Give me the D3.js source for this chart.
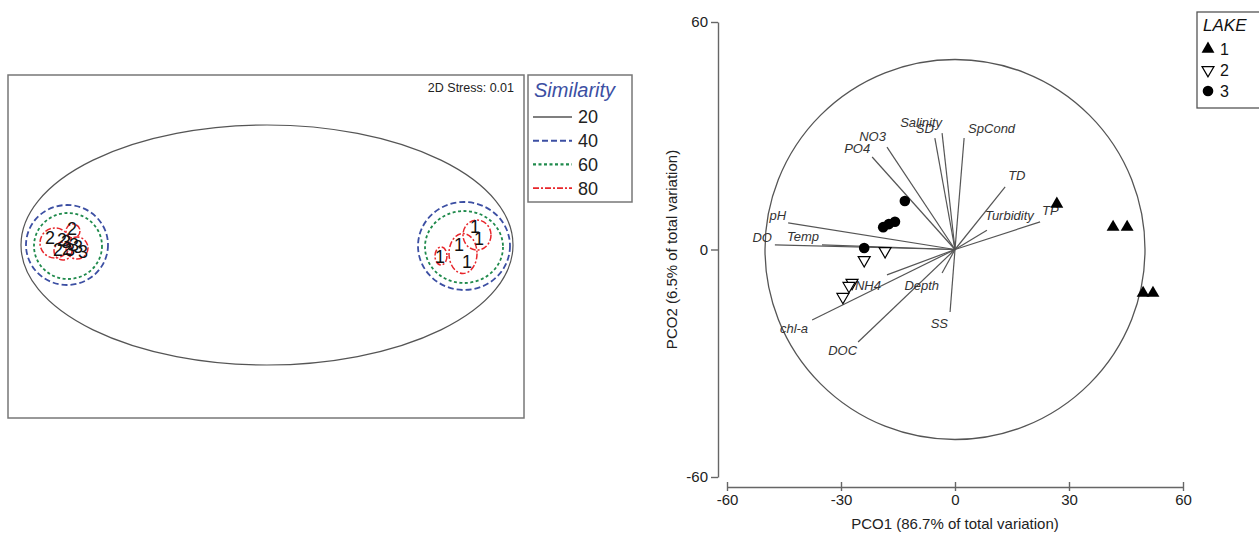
<!DOCTYPE html>
<html>
<head>
<meta charset="utf-8">
<script src="https://cdn.jsdelivr.net/npm/d3@7"></script>
<style>
  body { margin: 0; background: #fff; }
  svg { font-family: "Liberation Sans", Arial, sans-serif; }
</style>
</head>
<body>
<div id="chart"></div>
<script>
// ---- left panel: nMDS sample labels ----
var mdsLabel = ["2","2","2","2","2","3","3","3","3","3","1","1","1","1","1"];
var mdsX = [-2.16,-2.08,-1.99,-1.94,-2.04,-2.00,-1.92,-1.88,-1.83,-1.96, 1.74,1.93,2.01,2.09,2.13];
var mdsY = [0.085,-0.035,-0.025,0.175,0.065,0.045,0.015,-0.005,-0.055,-0.035, -0.105,0.015,-0.155,0.195,0.075];

// similarity contours (level, centre, radii)
var simLevel = [20, 40, 60, 80, 80, 80, 80, 40, 60, 80, 80, 80];
var simCx = [0.01, -1.99, -1.98, -2.11, -1.89, -1.93, -2.03, 1.98, 1.98, 1.75, 1.97, 2.11];
var simCy = [0.015, 0.015, 0.005, 0.035, -0.015, 0.155, -0.045, 0.005, -0.005, -0.095, -0.07, 0.115];
var simRx = [2.46, 0.41, 0.34, 0.15, 0.11, 0.07, 0.09, 0.46, 0.39, 0.06, 0.14, 0.14];
var simRy = [1.20, 0.40, 0.33, 0.15, 0.11, 0.07, 0.09, 0.44, 0.36, 0.09, 0.20, 0.15];
var legendLevels = [20, 40, 60, 80];

// ---- right panel: PCO ----
var lake = [1,1,1,1,1, 2,2,2,2,2, 3,3,3,3,3];
var pco1 = [26.8, 41.6, 45.3, 49.5, 52.1, -18.4, -23.9, -27.1, -27.9, -29.5, -13.2, -18.9, -17.4, -15.8, -23.9];
var pco2 = [12.0, 5.9, 5.9, -11.5, -11.5, -0.4, -2.8, -8.8, -9.6, -12.5, 12.8, 5.9, 6.7, 7.3, 0.4];

var varName = ["pH","DO","Temp","NO3","PO4","Salinity","SD","SpCond","TD","Turbidity","TP","NH4","Depth","SS","chl-a","DOC"];
var varX = [-43.9, -47.4, -35.0, -17.9, -21.8, -3.4, -5.3, 2.4, 13.2, 8.4, 22.4, -17.9, -3.4, -1.3, -37.6, -25.5];
var varY = [7.0, 1.2, 1.2, 27.0, 24.4, 30.7, 29.4, 29.4, 16.5, 5.1, 7.3, -6.7, -6.2, -16.5, -18.6, -24.4];
var axisTicks = [-60, 0, 60];
var xTicks = [-60, -30, 0, 30, 60];

// label placement relative to vector tip
var labelPos = {
  "pH": [-2, -3, "end"], "DO": [-3, -3, "end"], "Temp": [-3, -4, "end"],
  "NO3": [-1, -6, "end"], "PO4": [-2, -4, "end"], "Salinity": [0, -6, "end"],
  "SD": [-1, -5, "end"], "SpCond": [4, -5, "start"], "TD": [3, -7, "start"],
  "Turbidity": [-2, -10, "start"], "TP": [2, -7, "start"], "NH4": [-6, 15, "end"],
  "Depth": [-3, 17, "end"], "SS": [-2, 16, "end"], "chl-a": [-4, 13, "end"], "DOC": [-1, 13, "end"]
};

var simStyle = {
  20: { color: "#555", dash: null, width: 1.2 },
  40: { color: "#3c4fa3", dash: "6,3", width: 1.8 },
  60: { color: "#1f8a4c", dash: "3,2.5", width: 1.8 },
  80: { color: "#e8262b", dash: "6,2,2,2", width: 1.5 }
};

var svg = d3.select("#chart").append("svg")
  .attr("width", 1259).attr("height", 533);

// ================= left panel =================
var mx = d3.scaleLinear().domain([-2.58, 2.58]).range([8, 524]);
var my = d3.scaleLinear().domain([-1.715, 1.715]).range([418, 75]);

var left = svg.append("g");
left.append("rect")
  .attr("x", mx(-2.58)).attr("y", my(1.715))
  .attr("width", mx(2.58) - mx(-2.58)).attr("height", my(-1.715) - my(1.715))
  .attr("fill", "none").attr("stroke", "#777").attr("stroke-width", 1.5);

left.append("text")
  .attr("x", 514).attr("y", 92)
  .attr("text-anchor", "end")
  .style("font-size", "12.5px").style("fill", "#222")
  .text("2D Stress: 0.01");

left.selectAll("ellipse.sim")
  .data(simLevel.map(function(d, i) { return { lev: d, cx: simCx[i], cy: simCy[i], rx: simRx[i], ry: simRy[i] }; }))
  .enter().append("ellipse")
  .attr("class", "sim")
  .attr("cx", function(d) { return mx(d.cx); })
  .attr("cy", function(d) { return my(d.cy); })
  .attr("rx", function(d) { return mx(d.cx + d.rx) - mx(d.cx); })
  .attr("ry", function(d) { return my(d.cy - d.ry) - my(d.cy); })
  .attr("fill", "none")
  .attr("stroke", function(d) { return simStyle[d.lev].color; })
  .attr("stroke-width", function(d) { return simStyle[d.lev].width; })
  .attr("stroke-dasharray", function(d) { return simStyle[d.lev].dash; });

left.selectAll("text.lab")
  .data(mdsLabel.map(function(d, i) { return { t: d, x: mdsX[i], y: mdsY[i] }; }))
  .enter().append("text")
  .attr("class", "lab")
  .attr("x", function(d) { return mx(d.x); })
  .attr("y", function(d) { return my(d.y); })
  .attr("dy", "0.36em")
  .attr("text-anchor", "middle")
  .style("font-size", "18px").style("fill", "#111")
  .text(function(d) { return d.t; });

// similarity legend
var sl = svg.append("g").attr("transform", "translate(528,75)");
sl.append("rect").attr("width", 104).attr("height", 127)
  .attr("fill", "#fff").attr("stroke", "#777").attr("stroke-width", 1.5);
sl.append("text").attr("x", 6).attr("y", 22)
  .style("font-size", "20px").style("font-style", "italic").style("fill", "#3c4fa3")
  .text("Similarity");
var li = sl.selectAll("g.item").data(legendLevels).enter().append("g")
  .attr("class", "item")
  .attr("transform", function(d, i) { return "translate(0," + (42 + i * 23.7) + ")"; });
li.append("line").attr("x1", 5).attr("x2", 44)
  .attr("stroke", function(d) { return simStyle[d].color; })
  .attr("stroke-width", function(d) { return simStyle[d].width + 0.3; })
  .attr("stroke-dasharray", function(d) { return simStyle[d].dash; });
li.append("text").attr("x", 50).attr("dy", "0.36em")
  .style("font-size", "18px").style("fill", "#222")
  .text(function(d) { return d; });

// ================= right panel =================
var x = d3.scaleLinear().domain([-60, 60]).range([727, 1183]);
var y = d3.scaleLinear().domain([-60, 60]).range([477, 22]);

var right = svg.append("g");

// correlation circle
right.append("circle")
  .attr("cx", x(0)).attr("cy", y(0))
  .attr("r", x(50) - x(0))
  .attr("fill", "none").attr("stroke", "#555").attr("stroke-width", 1.3);

var vecs = varName.map(function(d, i) { return { name: d, x: varX[i], y: varY[i] }; });
right.selectAll("line.vec").data(vecs).enter().append("line")
  .attr("class", "vec")
  .attr("x1", x(0)).attr("y1", y(0))
  .attr("x2", function(d) { return x(d.x); })
  .attr("y2", function(d) { return y(d.y); })
  .attr("stroke", "#555").attr("stroke-width", 1.2);

right.selectAll("text.vlab").data(vecs).enter().append("text")
  .attr("class", "vlab")
  .attr("x", function(d) { return x(d.x) + labelPos[d.name][0]; })
  .attr("y", function(d) { return y(d.y) + labelPos[d.name][1]; })
  .attr("text-anchor", function(d) { return labelPos[d.name][2]; })
  .style("font-size", "13px").style("font-style", "italic").style("fill", "#333")
  .text(function(d) { return d.name; });

// sample points
var pts = lake.map(function(d, i) { return { lake: d, x: pco1[i], y: pco2[i] }; });
function drawMarker(sel) {
  sel.each(function(d) {
    var g = d3.select(this);
    if (d.lake == 1) {
      g.append("path").attr("d", d3.symbol(d3.symbolTriangle, 72)())
        .attr("fill", "#000");
    } else if (d.lake == 2) {
      g.append("path").attr("d", d3.symbol(d3.symbolTriangle, 62)())
        .attr("transform", "rotate(180)")
        .attr("fill", "#fff").attr("stroke", "#000").attr("stroke-width", 1.2);
    } else {
      g.append("circle").attr("r", 5.3).attr("fill", "#000");
    }
  });
}
right.selectAll("g.pt").data(pts).enter().append("g")
  .attr("class", "pt")
  .attr("transform", function(d) { return "translate(" + x(d.x) + "," + y(d.y) + ")"; })
  .call(drawMarker);

// axes
var yAxis = right.append("g").attr("transform", "translate(718,0)")
  .call(d3.axisLeft(y).tickValues(axisTicks).tickFormat(String).tickSizeInner(7).tickSizeOuter(0).tickPadding(3));
var xAxis = right.append("g").attr("transform", "translate(0,487)")
  .call(d3.axisBottom(x).tickValues(xTicks).tickFormat(String).tickSizeInner(5).tickSizeOuter(0).tickPadding(2));
xAxis.selectAll(".tick line").attr("y1", -5).attr("y2", 4);
[yAxis, xAxis].forEach(function(a) {
  a.select(".domain").attr("stroke", "#666").attr("stroke-width", 1.4);
  a.selectAll(".tick line").attr("stroke", "#666").attr("stroke-width", 1.4);
  a.selectAll(".tick text").style("font-size", "15px").style("fill", "#222")
    .style("font-family", "Liberation Sans, Arial, sans-serif");
});

right.append("text")
  .attr("x", x(0)).attr("y", 529)
  .attr("text-anchor", "middle")
  .style("font-size", "15px").style("fill", "#222")
  .text("PCO1 (86.7% of total variation)");
right.append("text")
  .attr("transform", "translate(677," + y(0) + ") rotate(-90)")
  .attr("text-anchor", "middle")
  .style("font-size", "15px").style("fill", "#222")
  .text("PCO2 (6.5% of total variation)");

// LAKE legend
var ll = svg.append("g").attr("transform", "translate(1197,12)");
ll.append("rect").attr("width", 75).attr("height", 96)
  .attr("fill", "#fff").attr("stroke", "#555").attr("stroke-width", 1.3);
ll.append("text").attr("x", 6).attr("y", 19)
  .style("font-size", "17px").style("font-style", "italic").style("fill", "#111")
  .text("LAKE");
var lki = ll.selectAll("g.lk").data([1, 2, 3]).enter().append("g")
  .attr("class", "lk")
  .attr("transform", function(d, i) { return "translate(11," + (37 + i * 21) + ")"; });
lki.each(function(d) {
  var g = d3.select(this).append("g").datum({ lake: d });
  drawMarker(g);
});
lki.append("text").attr("x", 12).attr("dy", "0.36em")
  .style("font-size", "16px").style("fill", "#111")
  .text(function(d) { return d; });
</script>
</body>
</html>
